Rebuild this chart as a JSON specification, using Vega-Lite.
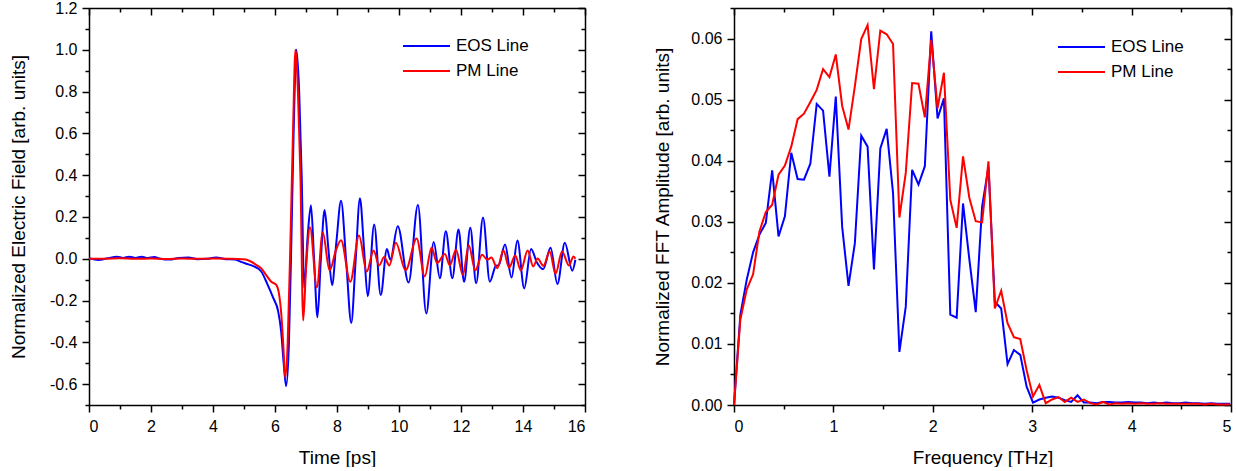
{
  "$schema": "https://vega.github.io/schema/vega-lite/v6.json",
  "padding": {"left": 9, "top": 0, "right": 0, "bottom": 0},
  "background": "white",
  "config": {
    "font": "Liberation Sans",
    "view": {"stroke": null},
    "concat": {"spacing": 67},
    "axis": {
      "grid": false,
      "domainColor": "black",
      "domainWidth": 1.5,
      "tickColor": "black",
      "tickWidth": 1.5,
      "labelColor": "black",
      "titleColor": "black",
      "labelFont": "Liberation Sans",
      "titleFont": "Liberation Sans",
      "labelFontSize": 16,
      "titleFontSize": 19,
      "titleFontWeight": "normal",
      "labelPadding": 4
    },
    "legend": {
      "labelFont": "Liberation Sans",
      "labelFontSize": 17,
      "labelColor": "black"
    }
  },
  "datasets": {
    "time": [
      {"t":0,"v":0.003,"s":"EOS Line"},{"t":0.3,"v":-0.006,"s":"EOS Line"},{"t":0.6,"v":0.002,"s":"EOS Line"},{"t":0.9,"v":0.01,"s":"EOS Line"},{"t":1.1,"v":0.004,"s":"EOS Line"},{"t":1.3,"v":0.01,"s":"EOS Line"},{"t":1.5,"v":0.004,"s":"EOS Line"},{"t":1.7,"v":0.01,"s":"EOS Line"},{"t":1.9,"v":0.003,"s":"EOS Line"},{"t":2.1,"v":0.008,"s":"EOS Line"},{"t":2.3,"v":0.0,"s":"EOS Line"},{"t":2.6,"v":-0.004,"s":"EOS Line"},{"t":2.9,"v":0.004,"s":"EOS Line"},{"t":3.2,"v":0.006,"s":"EOS Line"},{"t":3.5,"v":-0.002,"s":"EOS Line"},{"t":3.8,"v":0.0,"s":"EOS Line"},{"t":4.1,"v":0.006,"s":"EOS Line"},{"t":4.4,"v":-0.002,"s":"EOS Line"},{"t":4.7,"v":-0.004,"s":"EOS Line"},{"t":4.9,"v":-0.015,"s":"EOS Line"},{"t":5.1,"v":-0.025,"s":"EOS Line"},{"t":5.3,"v":-0.035,"s":"EOS Line"},{"t":5.55,"v":-0.06,"s":"EOS Line"},{"t":5.75,"v":-0.12,"s":"EOS Line"},{"t":5.95,"v":-0.19,"s":"EOS Line"},{"t":6.1,"v":-0.25,"s":"EOS Line"},{"t":6.2,"v":-0.35,"s":"EOS Line"},{"t":6.28,"v":-0.5,"s":"EOS Line"},{"t":6.36,"v":-0.61,"s":"EOS Line"},{"t":6.45,"v":-0.4,"s":"EOS Line"},{"t":6.53,"v":0.1,"s":"EOS Line"},{"t":6.6,"v":0.6,"s":"EOS Line"},{"t":6.69,"v":1.0,"s":"EOS Line"},{"t":6.78,"v":0.8,"s":"EOS Line"},{"t":6.86,"v":0.4,"s":"EOS Line"},{"t":6.94,"v":-0.14,"s":"EOS Line"},{"t":7.05,"v":0.1,"s":"EOS Line"},{"t":7.16,"v":0.256,"s":"EOS Line"},{"t":7.26,"v":0.0,"s":"EOS Line"},{"t":7.37,"v":-0.28,"s":"EOS Line"},{"t":7.48,"v":0.0,"s":"EOS Line"},{"t":7.6,"v":0.233,"s":"EOS Line"},{"t":7.72,"v":0.05,"s":"EOS Line"},{"t":7.84,"v":-0.126,"s":"EOS Line"},{"t":7.98,"v":0.08,"s":"EOS Line"},{"t":8.13,"v":0.277,"s":"EOS Line"},{"t":8.3,"v":-0.02,"s":"EOS Line"},{"t":8.46,"v":-0.308,"s":"EOS Line"},{"t":8.6,"v":-0.01,"s":"EOS Line"},{"t":8.74,"v":0.29,"s":"EOS Line"},{"t":8.87,"v":0.05,"s":"EOS Line"},{"t":8.99,"v":-0.179,"s":"EOS Line"},{"t":9.2,"v":0.164,"s":"EOS Line"},{"t":9.41,"v":-0.174,"s":"EOS Line"},{"t":9.61,"v":0.047,"s":"EOS Line"},{"t":9.72,"v":-0.005,"s":"EOS Line"},{"t":9.96,"v":0.156,"s":"EOS Line"},{"t":10.31,"v":-0.114,"s":"EOS Line"},{"t":10.61,"v":0.257,"s":"EOS Line"},{"t":10.88,"v":-0.262,"s":"EOS Line"},{"t":11.12,"v":0.08,"s":"EOS Line"},{"t":11.32,"v":-0.093,"s":"EOS Line"},{"t":11.51,"v":0.132,"s":"EOS Line"},{"t":11.72,"v":-0.093,"s":"EOS Line"},{"t":11.92,"v":0.14,"s":"EOS Line"},{"t":12.1,"v":-0.11,"s":"EOS Line"},{"t":12.3,"v":0.148,"s":"EOS Line"},{"t":12.49,"v":-0.117,"s":"EOS Line"},{"t":12.71,"v":0.197,"s":"EOS Line"},{"t":12.93,"v":-0.11,"s":"EOS Line"},{"t":13.12,"v":-0.035,"s":"EOS Line"},{"t":13.22,"v":-0.03,"s":"EOS Line"},{"t":13.42,"v":0.068,"s":"EOS Line"},{"t":13.63,"v":-0.09,"s":"EOS Line"},{"t":13.82,"v":0.087,"s":"EOS Line"},{"t":14.04,"v":-0.142,"s":"EOS Line"},{"t":14.26,"v":0.047,"s":"EOS Line"},{"t":14.45,"v":-0.018,"s":"EOS Line"},{"t":14.65,"v":-0.05,"s":"EOS Line"},{"t":14.89,"v":0.052,"s":"EOS Line"},{"t":15.11,"v":-0.121,"s":"EOS Line"},{"t":15.35,"v":0.076,"s":"EOS Line"},{"t":15.59,"v":-0.057,"s":"EOS Line"},{"t":15.69,"v":-0.005,"s":"EOS Line"},
      {"t":0,"v":0.0,"s":"PM Line"},{"t":0.5,"v":0.0,"s":"PM Line"},{"t":1.0,"v":0.002,"s":"PM Line"},{"t":1.5,"v":0.0,"s":"PM Line"},{"t":2.0,"v":0.001,"s":"PM Line"},{"t":2.5,"v":-0.001,"s":"PM Line"},{"t":3.0,"v":0.001,"s":"PM Line"},{"t":3.5,"v":0.0,"s":"PM Line"},{"t":4.0,"v":0.001,"s":"PM Line"},{"t":4.5,"v":0.0,"s":"PM Line"},{"t":5.0,"v":-0.003,"s":"PM Line"},{"t":5.2,"v":-0.012,"s":"PM Line"},{"t":5.4,"v":-0.03,"s":"PM Line"},{"t":5.55,"v":-0.045,"s":"PM Line"},{"t":5.7,"v":-0.075,"s":"PM Line"},{"t":5.88,"v":-0.11,"s":"PM Line"},{"t":6.04,"v":-0.125,"s":"PM Line"},{"t":6.12,"v":-0.16,"s":"PM Line"},{"t":6.2,"v":-0.26,"s":"PM Line"},{"t":6.27,"v":-0.42,"s":"PM Line"},{"t":6.33,"v":-0.57,"s":"PM Line"},{"t":6.41,"v":-0.4,"s":"PM Line"},{"t":6.5,"v":0.1,"s":"PM Line"},{"t":6.58,"v":0.6,"s":"PM Line"},{"t":6.66,"v":1.0,"s":"PM Line"},{"t":6.74,"v":0.8,"s":"PM Line"},{"t":6.82,"v":0.4,"s":"PM Line"},{"t":6.91,"v":-0.295,"s":"PM Line"},{"t":7.0,"v":-0.05,"s":"PM Line"},{"t":7.13,"v":0.151,"s":"PM Line"},{"t":7.35,"v":-0.137,"s":"PM Line"},{"t":7.54,"v":0.127,"s":"PM Line"},{"t":7.76,"v":-0.056,"s":"PM Line"},{"t":7.97,"v":0.043,"s":"PM Line"},{"t":8.13,"v":0.088,"s":"PM Line"},{"t":8.43,"v":-0.11,"s":"PM Line"},{"t":8.71,"v":0.111,"s":"PM Line"},{"t":8.96,"v":-0.061,"s":"PM Line"},{"t":9.18,"v":0.04,"s":"PM Line"},{"t":9.36,"v":-0.032,"s":"PM Line"},{"t":9.52,"v":0.008,"s":"PM Line"},{"t":9.69,"v":-0.032,"s":"PM Line"},{"t":9.9,"v":0.076,"s":"PM Line"},{"t":10.21,"v":-0.056,"s":"PM Line"},{"t":10.57,"v":0.097,"s":"PM Line"},{"t":10.83,"v":-0.085,"s":"PM Line"},{"t":11.05,"v":0.052,"s":"PM Line"},{"t":11.23,"v":-0.021,"s":"PM Line"},{"t":11.48,"v":0.023,"s":"PM Line"},{"t":11.64,"v":-0.032,"s":"PM Line"},{"t":11.84,"v":0.043,"s":"PM Line"},{"t":12.06,"v":-0.077,"s":"PM Line"},{"t":12.25,"v":0.064,"s":"PM Line"},{"t":12.46,"v":-0.056,"s":"PM Line"},{"t":12.68,"v":0.019,"s":"PM Line"},{"t":12.85,"v":-0.005,"s":"PM Line"},{"t":12.98,"v":0.006,"s":"PM Line"},{"t":13.17,"v":-0.045,"s":"PM Line"},{"t":13.37,"v":0.039,"s":"PM Line"},{"t":13.55,"v":-0.042,"s":"PM Line"},{"t":13.75,"v":0.015,"s":"PM Line"},{"t":13.93,"v":-0.056,"s":"PM Line"},{"t":14.15,"v":0.039,"s":"PM Line"},{"t":14.33,"v":-0.037,"s":"PM Line"},{"t":14.47,"v":0.001,"s":"PM Line"},{"t":14.66,"v":-0.034,"s":"PM Line"},{"t":14.86,"v":0.035,"s":"PM Line"},{"t":15.05,"v":-0.072,"s":"PM Line"},{"t":15.26,"v":0.035,"s":"PM Line"},{"t":15.48,"v":-0.032,"s":"PM Line"},{"t":15.63,"v":0.011,"s":"PM Line"},{"t":15.69,"v":0.0,"s":"PM Line"}
    ],
    "fft": [
      {"f":0,"a":0,"s":"EOS Line"},{"f":0.064,"a":0.0148,"s":"EOS Line"},{"f":0.128,"a":0.0205,"s":"EOS Line"},{"f":0.192,"a":0.025,"s":"EOS Line"},{"f":0.256,"a":0.0279,"s":"EOS Line"},{"f":0.32,"a":0.0298,"s":"EOS Line"},{"f":0.384,"a":0.0384,"s":"EOS Line"},{"f":0.448,"a":0.0276,"s":"EOS Line"},{"f":0.512,"a":0.0309,"s":"EOS Line"},{"f":0.576,"a":0.0413,"s":"EOS Line"},{"f":0.64,"a":0.037,"s":"EOS Line"},{"f":0.704,"a":0.0369,"s":"EOS Line"},{"f":0.768,"a":0.0395,"s":"EOS Line"},{"f":0.832,"a":0.0493,"s":"EOS Line"},{"f":0.896,"a":0.0482,"s":"EOS Line"},{"f":0.96,"a":0.0374,"s":"EOS Line"},{"f":1.024,"a":0.0505,"s":"EOS Line"},{"f":1.088,"a":0.0292,"s":"EOS Line"},{"f":1.152,"a":0.0195,"s":"EOS Line"},{"f":1.216,"a":0.0265,"s":"EOS Line"},{"f":1.28,"a":0.0441,"s":"EOS Line"},{"f":1.344,"a":0.0423,"s":"EOS Line"},{"f":1.408,"a":0.0222,"s":"EOS Line"},{"f":1.472,"a":0.042,"s":"EOS Line"},{"f":1.536,"a":0.0452,"s":"EOS Line"},{"f":1.6,"a":0.0347,"s":"EOS Line"},{"f":1.664,"a":0.0087,"s":"EOS Line"},{"f":1.728,"a":0.0161,"s":"EOS Line"},{"f":1.792,"a":0.0385,"s":"EOS Line"},{"f":1.856,"a":0.0361,"s":"EOS Line"},{"f":1.92,"a":0.0391,"s":"EOS Line"},{"f":1.984,"a":0.0612,"s":"EOS Line"},{"f":2.048,"a":0.0469,"s":"EOS Line"},{"f":2.112,"a":0.0502,"s":"EOS Line"},{"f":2.176,"a":0.0148,"s":"EOS Line"},{"f":2.24,"a":0.0143,"s":"EOS Line"},{"f":2.304,"a":0.033,"s":"EOS Line"},{"f":2.368,"a":0.0238,"s":"EOS Line"},{"f":2.432,"a":0.0152,"s":"EOS Line"},{"f":2.496,"a":0.0325,"s":"EOS Line"},{"f":2.56,"a":0.039,"s":"EOS Line"},{"f":2.624,"a":0.0169,"s":"EOS Line"},{"f":2.688,"a":0.0158,"s":"EOS Line"},{"f":2.752,"a":0.0067,"s":"EOS Line"},{"f":2.816,"a":0.009,"s":"EOS Line"},{"f":2.88,"a":0.0082,"s":"EOS Line"},{"f":2.944,"a":0.003,"s":"EOS Line"},{"f":3.008,"a":0.0004,"s":"EOS Line"},{"f":3.072,"a":0.0009,"s":"EOS Line"},{"f":3.136,"a":0.0012,"s":"EOS Line"},{"f":3.2,"a":0.0014,"s":"EOS Line"},{"f":3.264,"a":0.0012,"s":"EOS Line"},{"f":3.328,"a":0.0008,"s":"EOS Line"},{"f":3.392,"a":0.0005,"s":"EOS Line"},{"f":3.456,"a":0.0016,"s":"EOS Line"},{"f":3.52,"a":0.0004,"s":"EOS Line"},{"f":3.584,"a":0.0004,"s":"EOS Line"},{"f":3.648,"a":0.0003,"s":"EOS Line"},{"f":3.712,"a":0.0005,"s":"EOS Line"},{"f":3.776,"a":0.0005,"s":"EOS Line"},{"f":3.84,"a":0.0004,"s":"EOS Line"},{"f":3.904,"a":0.0004,"s":"EOS Line"},{"f":3.968,"a":0.0005,"s":"EOS Line"},{"f":4.032,"a":0.0004,"s":"EOS Line"},{"f":4.096,"a":0.0004,"s":"EOS Line"},{"f":4.16,"a":0.0003,"s":"EOS Line"},{"f":4.224,"a":0.0004,"s":"EOS Line"},{"f":4.288,"a":0.0003,"s":"EOS Line"},{"f":4.352,"a":0.0004,"s":"EOS Line"},{"f":4.416,"a":0.0003,"s":"EOS Line"},{"f":4.48,"a":0.0003,"s":"EOS Line"},{"f":4.544,"a":0.0004,"s":"EOS Line"},{"f":4.608,"a":0.0003,"s":"EOS Line"},{"f":4.672,"a":0.0003,"s":"EOS Line"},{"f":4.736,"a":0.0002,"s":"EOS Line"},{"f":4.8,"a":0.0003,"s":"EOS Line"},{"f":4.864,"a":0.0002,"s":"EOS Line"},{"f":4.928,"a":0.0002,"s":"EOS Line"},{"f":4.992,"a":0.0002,"s":"EOS Line"},
      {"f":0,"a":0,"s":"PM Line"},{"f":0.064,"a":0.014,"s":"PM Line"},{"f":0.128,"a":0.0189,"s":"PM Line"},{"f":0.192,"a":0.0214,"s":"PM Line"},{"f":0.256,"a":0.0284,"s":"PM Line"},{"f":0.32,"a":0.0316,"s":"PM Line"},{"f":0.384,"a":0.0328,"s":"PM Line"},{"f":0.448,"a":0.0377,"s":"PM Line"},{"f":0.512,"a":0.0392,"s":"PM Line"},{"f":0.576,"a":0.0423,"s":"PM Line"},{"f":0.64,"a":0.0468,"s":"PM Line"},{"f":0.704,"a":0.0477,"s":"PM Line"},{"f":0.768,"a":0.0496,"s":"PM Line"},{"f":0.832,"a":0.0516,"s":"PM Line"},{"f":0.896,"a":0.055,"s":"PM Line"},{"f":0.96,"a":0.0537,"s":"PM Line"},{"f":1.024,"a":0.0574,"s":"PM Line"},{"f":1.088,"a":0.049,"s":"PM Line"},{"f":1.152,"a":0.0451,"s":"PM Line"},{"f":1.216,"a":0.0522,"s":"PM Line"},{"f":1.28,"a":0.0599,"s":"PM Line"},{"f":1.344,"a":0.0622,"s":"PM Line"},{"f":1.408,"a":0.0517,"s":"PM Line"},{"f":1.472,"a":0.0613,"s":"PM Line"},{"f":1.536,"a":0.0607,"s":"PM Line"},{"f":1.6,"a":0.0591,"s":"PM Line"},{"f":1.664,"a":0.0307,"s":"PM Line"},{"f":1.728,"a":0.038,"s":"PM Line"},{"f":1.792,"a":0.0527,"s":"PM Line"},{"f":1.856,"a":0.0526,"s":"PM Line"},{"f":1.92,"a":0.0471,"s":"PM Line"},{"f":1.984,"a":0.0598,"s":"PM Line"},{"f":2.048,"a":0.0486,"s":"PM Line"},{"f":2.112,"a":0.0544,"s":"PM Line"},{"f":2.176,"a":0.0336,"s":"PM Line"},{"f":2.24,"a":0.029,"s":"PM Line"},{"f":2.304,"a":0.0407,"s":"PM Line"},{"f":2.368,"a":0.0339,"s":"PM Line"},{"f":2.432,"a":0.0301,"s":"PM Line"},{"f":2.496,"a":0.0299,"s":"PM Line"},{"f":2.56,"a":0.0399,"s":"PM Line"},{"f":2.624,"a":0.0158,"s":"PM Line"},{"f":2.688,"a":0.0187,"s":"PM Line"},{"f":2.752,"a":0.0134,"s":"PM Line"},{"f":2.816,"a":0.0111,"s":"PM Line"},{"f":2.88,"a":0.0108,"s":"PM Line"},{"f":2.944,"a":0.0057,"s":"PM Line"},{"f":3.008,"a":0.0014,"s":"PM Line"},{"f":3.072,"a":0.0033,"s":"PM Line"},{"f":3.136,"a":0.0003,"s":"PM Line"},{"f":3.2,"a":0.0009,"s":"PM Line"},{"f":3.264,"a":0.0013,"s":"PM Line"},{"f":3.328,"a":0.0005,"s":"PM Line"},{"f":3.392,"a":0.0012,"s":"PM Line"},{"f":3.456,"a":0.0005,"s":"PM Line"},{"f":3.52,"a":0.0009,"s":"PM Line"},{"f":3.584,"a":0.0003,"s":"PM Line"},{"f":3.648,"a":0.0001,"s":"PM Line"},{"f":3.712,"a":0.0005,"s":"PM Line"},{"f":3.776,"a":0.0001,"s":"PM Line"},{"f":3.84,"a":0.0003,"s":"PM Line"},{"f":3.904,"a":0.0002,"s":"PM Line"},{"f":3.968,"a":0.0003,"s":"PM Line"},{"f":4.032,"a":0.0002,"s":"PM Line"},{"f":4.096,"a":0.0003,"s":"PM Line"},{"f":4.16,"a":0.0002,"s":"PM Line"},{"f":4.224,"a":0.0002,"s":"PM Line"},{"f":4.288,"a":0.0003,"s":"PM Line"},{"f":4.352,"a":0.0002,"s":"PM Line"},{"f":4.416,"a":0.0002,"s":"PM Line"},{"f":4.48,"a":0.0002,"s":"PM Line"},{"f":4.544,"a":0.0002,"s":"PM Line"},{"f":4.608,"a":0.0002,"s":"PM Line"},{"f":4.672,"a":0.0002,"s":"PM Line"},{"f":4.736,"a":0.0001,"s":"PM Line"},{"f":4.8,"a":0.0002,"s":"PM Line"},{"f":4.864,"a":0.0001,"s":"PM Line"},{"f":4.928,"a":0.0001,"s":"PM Line"},{"f":4.992,"a":0.0001,"s":"PM Line"}
    ]
  },
  "resolve": {"legend": {"color": "independent"}},
  "hconcat": [
    {
      "width": 496,
      "height": 397,
      "data": {"name": "time"},
      "layer": [
        {
          "mark": {"type": "line", "strokeWidth": 2, "interpolate": "monotone"},
          "encoding": {
            "x": {"field": "t", "type": "quantitative", "title": "Time [ps]",
              "scale": {"domain": [0, 16], "nice": false, "zero": false},
              "axis": {"orient": "bottom", "values": [0,1,2,3,4,5,6,7,8,9,10,11,12,13,14,15,16],
                "labelExpr": "datum.value % 2 === 0 ? datum.label : ''",
                "tickSize": {"condition": {"test": "datum.value % 2 !== 0", "value": 4}, "value": 7},
                "labelPadding": 6, "titlePadding": 14}},
            "y": {"field": "v", "type": "quantitative", "title": "Normalized Electric Field [arb. units]",
              "scale": {"domain": [-0.7, 1.2], "nice": false, "zero": false},
              "axis": {"orient": "left", "values": [-0.7,-0.6,-0.5,-0.4,-0.3,-0.2,-0.1,0,0.1,0.2,0.3,0.4,0.5,0.6,0.7,0.8,0.9,1.0,1.1,1.2],
                "labelExpr": "abs(round(datum.value*10)) % 2 === 0 ? (datum.value < -0.001 ? '-' + format(-datum.value, '.1f') : format(abs(datum.value), '.1f')) : ''",
                "tickSize": {"condition": {"test": "abs(round(datum.value*10)) % 2 !== 0", "value": 4}, "value": 7},
                "labelPadding": 5, "titlePadding": 21}},
            "color": {"field": "s", "type": "nominal",
              "scale": {"domain": ["EOS Line", "PM Line"], "range": ["#0000FF", "#FF0000"]},
              "legend": {"orient": "none", "legendX": 340, "legendY": 27, "title": null, "symbolType": "M-3.7,0H1",
                "symbolSize": 400, "symbolStrokeWidth": 2, "symbolFillColor": "transparent", "labelFontSize": 17, "labelOffset": 5, "rowPadding": 6, "padding": 0}}
          }
        },
        {
          "mark": {"type": "line", "opacity": 0},
          "encoding": {
            "x": {"field": "t", "type": "quantitative",
              "axis": {"orient": "top", "title": null, "labels": false, "values": [0,1,2,3,4,5,6,7,8,9,10,11,12,13,14,15,16],
                "tickSize": {"condition": {"test": "datum.value % 2 !== 0", "value": -4}, "value": -7}}},
            "y": {"field": "v", "type": "quantitative",
              "axis": {"orient": "right", "title": null, "labels": false, "values": [-0.7,-0.6,-0.5,-0.4,-0.3,-0.2,-0.1,0,0.1,0.2,0.3,0.4,0.5,0.6,0.7,0.8,0.9,1.0,1.1,1.2],
                "tickSize": {"condition": {"test": "abs(round(datum.value*10)) % 2 !== 0", "value": -4}, "value": -7}}},
            "detail": {"field": "s", "type": "nominal"}
          }
        }
      ],
      "resolve": {"axis": {"x": "independent", "y": "independent"}}
    },
    {
      "width": 497,
      "height": 397,
      "data": {"name": "fft"},
      "layer": [
        {
          "mark": {"type": "line", "strokeWidth": 2},
          "encoding": {
            "x": {"field": "f", "type": "quantitative", "title": "Frequency [THz]",
              "scale": {"domain": [0, 5], "nice": false, "zero": false},
              "axis": {"orient": "bottom", "values": [0,0.5,1,1.5,2,2.5,3,3.5,4,4.5,5],
                "labelExpr": "datum.value % 1 === 0 ? format(datum.value, 'd') : ''",
                "tickSize": {"condition": {"test": "datum.value % 1 !== 0", "value": 4}, "value": 7},
                "labelPadding": 6, "titlePadding": 14}},
            "y": {"field": "a", "type": "quantitative", "title": "Normalized FFT Amplitude [arb. units]",
              "scale": {"domain": [0, 0.065], "nice": false, "zero": false},
              "axis": {"orient": "left", "values": [0,0.005,0.01,0.015,0.02,0.025,0.03,0.035,0.04,0.045,0.05,0.055,0.06,0.065],
                "labelExpr": "round(datum.value*1000) % 10 === 0 ? format(datum.value, '.2f') : ''",
                "tickSize": {"condition": {"test": "round(datum.value*1000) % 10 !== 0", "value": 4}, "value": 7},
                "labelPadding": 5, "titlePadding": 18}},
            "color": {"field": "s", "type": "nominal",
              "scale": {"domain": ["EOS Line", "PM Line"], "range": ["#0000FF", "#FF0000"]},
              "legend": {"orient": "none", "legendX": 350, "legendY": 28, "title": null, "symbolType": "M-3.7,0H1",
                "symbolSize": 400, "symbolStrokeWidth": 2, "symbolFillColor": "transparent", "labelFontSize": 17, "labelOffset": 5, "rowPadding": 6, "padding": 0}}
          }
        },
        {
          "mark": {"type": "line", "opacity": 0},
          "encoding": {
            "x": {"field": "f", "type": "quantitative",
              "axis": {"orient": "top", "title": null, "labels": false, "values": [0,0.5,1,1.5,2,2.5,3,3.5,4,4.5,5],
                "tickSize": {"condition": {"test": "datum.value % 1 !== 0", "value": -4}, "value": -7}}},
            "y": {"field": "a", "type": "quantitative",
              "axis": {"orient": "right", "title": null, "labels": false, "values": [0,0.005,0.01,0.015,0.02,0.025,0.03,0.035,0.04,0.045,0.05,0.055,0.06,0.065],
                "tickSize": {"condition": {"test": "round(datum.value*1000) % 10 !== 0", "value": -4}, "value": -7}}},
            "detail": {"field": "s", "type": "nominal"}
          }
        }
      ],
      "resolve": {"axis": {"x": "independent", "y": "independent"}}
    }
  ]
}
